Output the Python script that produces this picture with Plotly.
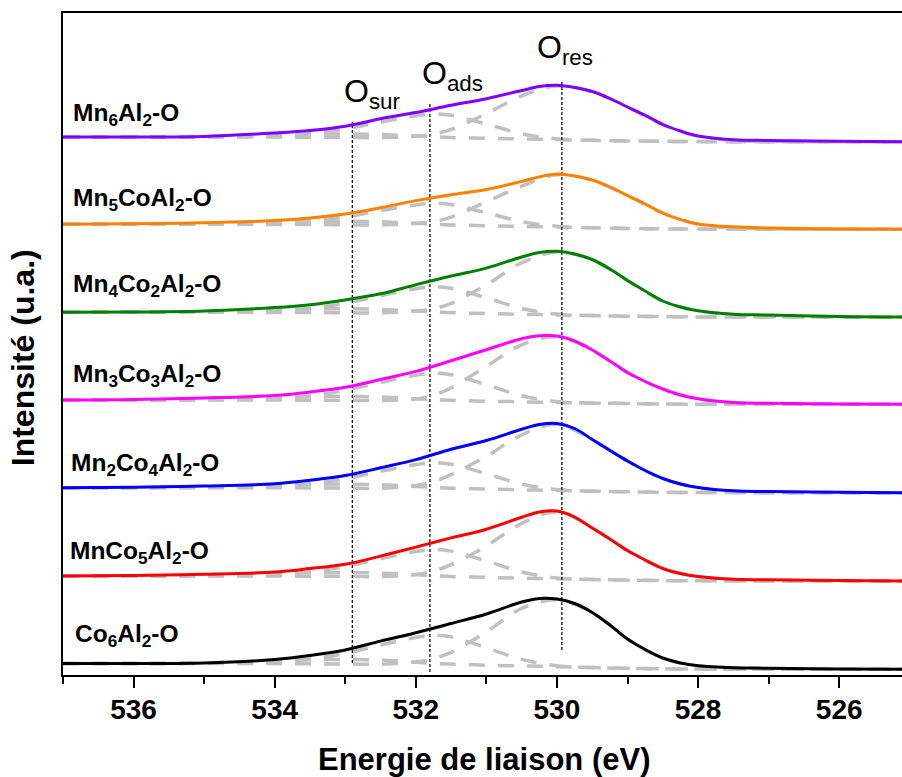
import plotly.graph_objects as go

# ---------------- data ----------------
energy = [537, 536, 535, 534, 533.5, 533, 532.5, 532, 531.5, 531, 530.5, 530.25, 530,
          529.75, 529.5, 529.25, 529, 528.75, 528.5, 528.25, 528, 527.5, 527, 526, 525.1]

int_mn6 = [543, 543, 543.5, 547, 549.5, 553.8, 561.2, 567.5, 574.7, 581.3, 589.5, 593.5, 594.7,
           592.5, 588.5, 581.5, 573, 564.7, 555.5, 549, 544, 540.3, 539.5, 538.7, 538.3]
int_mn5co = [455.7, 456.2, 457.2, 459.5, 462, 466, 472.2, 479.4, 485.3, 490.5, 498.6, 503.1, 506,
             504, 500, 493, 484.5, 476, 467, 460.5, 456, 453.2, 452, 451, 450.7]
int_mn4co2 = [367.7, 368, 369, 372.4, 375.3, 380.1, 386.2, 395.3, 404, 411.9, 423, 427.5, 428.8,
              426, 420.5, 411, 399.5, 389, 379, 373, 369.3, 365.8, 365, 363.5, 363]
int_mn3co3 = [280, 280.5, 282, 284.5, 288, 292.7, 300.5, 308.6, 319.3, 330.3, 341.3, 344.2, 344,
              339, 330, 319, 307.5, 298.5, 291, 285, 281.3, 277.5, 276.7, 276, 275.7]
int_mn2co4 = [192.3, 192.8, 194, 196.2, 199.7, 204.4, 212.2, 220.4, 230.8, 239.5, 250.8, 255.5, 256.5,
              251.5, 240.5, 229.5, 219, 209.5, 201.5, 196, 192.5, 189.2, 188.5, 187.7, 187.3]
int_mnco5 = [104, 104.5, 105.7, 108, 111.5, 115.7, 123.9, 132.9, 142.1, 150.8, 162.7, 168, 169,
             163, 152, 141, 129.5, 120, 111.5, 106.5, 103.5, 100.7, 100.2, 99.5, 99]
int_co6 = [16.5, 16.5, 17, 20.5, 24.5, 30, 38.9, 47.3, 56.5, 66, 78, 81.5, 81,
           76.5, 67.5, 55, 41, 30.5, 22, 17, 14.2, 12.2, 11.8, 11, 10.7]

comp_energy = [537, 535, 534, 533.5, 533, 532.5, 532, 531.75, 531.5, 531, 530.5, 530,
               529.5, 529, 528.5, 528, 527.5, 527, 525.1]

sur_mn6 = [543, 543.4, 545.0, 545.9, 546.1, 545.5, 544.0, 543.2, 542.5, 541.7, 541.0, 540.4, 539.7, 539.1, 538.7, 538.4, 538.3, 538.3, 538.3]
ads_mn6 = [543, 543.2, 544.3, 546.6, 551.2, 558.0, 564.3, 566.1, 564.7, 555.9, 546.3, 541.1, 539.7, 539.1, 538.7, 538.4, 538.3, 538.3, 538.3]
res_mn6 = [543, 543, 542.9, 542.8, 542.6, 542.4, 543.8, 545.9, 550.5, 566.3, 584.2, 594.0, 588.3, 572.8, 555.3, 543.8, 539.5, 538.6, 538.3]

sur_mn5co = [455.7, 456.1, 457.7, 458.6, 458.8, 458.2, 456.7, 455.8, 455.1, 454.3, 453.6, 453.0, 452.2, 451.6, 451.1, 450.9, 450.8, 450.7, 450.7]
ads_mn5co = [455.7, 455.9, 456.9, 459.0, 463.2, 469.4, 475.1, 476.7, 475.4, 467.3, 458.4, 453.7, 452.2, 451.6, 451.1, 450.9, 450.8, 450.7, 450.7]
res_mn5co = [455.7, 455.7, 455.6, 455.5, 455.3, 455.1, 456.5, 458.4, 462.9, 478.2, 493.8, 505.3, 499.7, 484.3, 466.8, 455.8, 452.0, 451.2, 450.7]

sur_mn4co2 = [367.7, 368.2, 370.0, 371.0, 371.3, 370.6, 368.9, 368.1, 367.3, 366.4, 365.7, 365.1, 364.4, 363.8, 363.4, 363.1, 363.0, 363.0, 363.0]
ads_mn4co2 = [367.7, 368.0, 369.2, 371.7, 376.8, 384.3, 391.3, 393.3, 391.8, 382.1, 371.5, 365.9, 364.4, 363.8, 363.4, 363.1, 363.0, 363.0, 363.0]
res_mn4co2 = [367.7, 367.7, 367.6, 367.5, 367.3, 367.1, 368.8, 371.2, 376.7, 395.2, 417.2, 428.0, 420.3, 399.3, 378.8, 369.1, 365.3, 364.0, 363.0]

sur_mn3co3 = [280, 280.5, 282.3, 283.3, 283.7, 283.0, 281.3, 280.4, 279.7, 278.8, 278.2, 277.6, 277.0, 276.5, 276.0, 275.8, 275.7, 275.7, 275.7]
ads_mn3co3 = [280, 280.3, 281.6, 284.2, 289.7, 297.5, 304.8, 306.8, 305.3, 295.2, 284.3, 278.4, 277.0, 276.5, 276.0, 275.8, 275.7, 275.7, 275.7]
res_mn3co3 = [280, 280, 279.9, 279.8, 279.7, 279.5, 281.1, 284.6, 292.3, 313.7, 335.2, 343.2, 329.8, 307.3, 290.8, 281.1, 277.2, 276.3, 275.7]

sur_mn2co4 = [192.3, 192.8, 194.6, 195.6, 195.9, 195.2, 193.5, 192.6, 191.8, 190.9, 190.2, 189.6, 188.8, 188.2, 187.7, 187.5, 187.4, 187.3, 187.3]
ads_mn2co4 = [192.3, 192.6, 193.8, 196.3, 201.3, 208.6, 215.4, 217.3, 215.8, 206.3, 195.9, 190.4, 188.8, 188.2, 187.7, 187.5, 187.4, 187.3, 187.3]
res_mn2co4 = [192.3, 192.3, 192.2, 192.1, 191.9, 191.7, 194.5, 198.3, 205.4, 223.7, 245.1, 255.7, 240.3, 218.8, 201.3, 192.3, 188.7, 187.8, 187.3]

sur_mnco5 = [104, 104.5, 106.3, 107.3, 107.6, 106.9, 105.2, 104.3, 103.5, 102.6, 101.9, 101.3, 100.5, 99.9, 99.4, 99.2, 99.1, 99.0, 99.0]
ads_mnco5 = [104, 104.3, 105.6, 108.2, 113.5, 121.3, 128.5, 130.5, 128.9, 118.9, 108.0, 102.1, 100.5, 99.9, 99.4, 99.2, 99.1, 99.0, 99.0]
res_mnco5 = [104, 104, 103.9, 103.8, 103.6, 103.4, 105.6, 109.0, 115.3, 134.1, 156.6, 168.2, 151.8, 129.3, 111.3, 103.3, 100.4, 99.6, 99.0]

sur_co6 = [16.5, 17.0, 19.1, 20.2, 20.5, 19.8, 17.8, 16.7, 15.9, 14.8, 14.1, 13.3, 12.4, 11.7, 11.2, 10.9, 10.8, 10.7, 10.7]
ads_co6 = [16.5, 16.8, 18.2, 20.9, 26.6, 35.0, 42.6, 44.8, 43.1, 32.3, 20.6, 14.2, 12.4, 11.7, 11.2, 10.9, 10.8, 10.7, 10.7]
res_co6 = [16.5, 16.5, 16.4, 16.2, 16.0, 15.8, 17.9, 21.3, 27.7, 48.1, 71.5, 80.1, 67.3, 40.8, 21.8, 14.0, 11.8, 11.2, 10.7]

sample_labels = ["Mn<sub>6</sub>Al<sub>2</sub>-O", "Mn<sub>5</sub>CoAl<sub>2</sub>-O",
                 "Mn<sub>4</sub>Co<sub>2</sub>Al<sub>2</sub>-O", "Mn<sub>3</sub>Co<sub>3</sub>Al<sub>2</sub>-O",
                 "Mn<sub>2</sub>Co<sub>4</sub>Al<sub>2</sub>-O", "MnCo<sub>5</sub>Al<sub>2</sub>-O",
                 "Co<sub>6</sub>Al<sub>2</sub>-O"]

ref_energy = [532.9, 531.8, 529.93]
ref_top = [558, 578, 598]
ref_bottom = [17, 8, 30]
ref_labels = ["O<sub>sur</sub>", "O<sub>ads</sub>", "O<sub>res</sub>"]

xtick_vals = [536, 534, 532, 530, 528, 526]

# ---------------- styles / positions ----------------
curves = [int_mn6, int_mn5co, int_mn4co2, int_mn3co3, int_mn2co4, int_mnco5, int_co6]
components = [(sur_mn6, ads_mn6, res_mn6), (sur_mn5co, ads_mn5co, res_mn5co),
              (sur_mn4co2, ads_mn4co2, res_mn4co2), (sur_mn3co3, ads_mn3co3, res_mn3co3),
              (sur_mn2co4, ads_mn2co4, res_mn2co4), (sur_mnco5, ads_mnco5, res_mnco5),
              (sur_co6, ads_co6, res_co6)]
colors = ["#8000ff", "#ff8000", "#008000", "#ff00ff", "#0000ff", "#ff0000", "#000000"]
label_x = [536.88, 536.88, 536.88, 536.88, 536.91, 536.93, 536.86]
label_y = [566, 481, 395, 305, 216, 128, 45]
ref_label_x = [533.04, 531.94, 530.31]
ref_label_y = [587, 605, 631]

FONT = "Liberation Sans, Arial, sans-serif"

fig = go.Figure()

for comps in components:
    for comp in comps:
        fig.add_trace(go.Scatter(x=comp_energy, y=comp, mode="lines",
                                 line=dict(color="#c0c0c0", width=3.5, dash="16px,13px",
                                           shape="spline", smoothing=1.0),
                                 hoverinfo="skip", showlegend=False))

for e, top, bot in zip(ref_energy, ref_top, ref_bottom):
    fig.add_trace(go.Scatter(x=[e, e], y=[bot, top], mode="lines",
                             line=dict(color="black", width=1.2, dash="3px,2px"),
                             hoverinfo="skip", showlegend=False))

for ys, c in zip(curves, colors):
    fig.add_trace(go.Scatter(x=energy, y=ys, mode="lines",
                             line=dict(color=c, width=3, shape="spline", smoothing=1.0),
                             showlegend=False))

annotations = []
for txt, x, y in zip(sample_labels, label_x, label_y):
    annotations.append(dict(x=x, y=y, xref="x", yref="y", text="<b>" + txt + "</b>",
                            showarrow=False, xanchor="left", yanchor="middle",
                            font=dict(family=FONT, size=24.5, color="black")))
for txt, x, y in zip(ref_labels, ref_label_x, ref_label_y):
    annotations.append(dict(x=x, y=y, xref="x", yref="y", text=txt,
                            showarrow=False, xanchor="left", yanchor="middle",
                            font=dict(family=FONT, size=32, color="black")))
annotations.append(dict(x=0.502, y=-0.128, xref="paper", yref="paper",
                        text="<b>Energie de liaison (eV)</b>", showarrow=False,
                        xanchor="center", yanchor="middle",
                        font=dict(family=FONT, size=31, color="black")))
annotations.append(dict(x=-0.0477, y=0.48, xref="paper", yref="paper",
                        text="<b>Intensité (u.a.)</b>", showarrow=False, textangle=-90,
                        xanchor="center", yanchor="middle",
                        font=dict(family=FONT, size=32, color="black")))

fig.update_layout(
    width=902, height=777,
    margin=dict(l=63, r=0, t=13, b=102),
    paper_bgcolor="white", plot_bgcolor="white",
    showlegend=False,
    annotations=annotations,
    xaxis=dict(range=[537, 525.11], showgrid=False, zeroline=False,
               showline=True, linecolor="black", linewidth=2, mirror=True,
               ticks="outside", ticklen=11, tickwidth=2, tickcolor="black",
               tickvals=xtick_vals, ticktext=["<b>%d</b>" % v for v in xtick_vals],
               tickfont=dict(family=FONT, size=28, color="black"),
               ticklabelstandoff=-3,
               minor=dict(ticks="outside", ticklen=7, tickwidth=2, tickcolor="black",
                          dtick=1, tick0=525, showgrid=False)),
    yaxis=dict(range=[5, 667], showgrid=False, zeroline=False,
               showline=True, linecolor="black", linewidth=2, mirror=False,
               ticks="", showticklabels=False),
)

# remove the browser's default 8 px page margin so the figure fills the window
fig.write_html("out.html", config={"displayModeBar": False},
               post_script="document.body.style.margin='0';document.body.style.overflow='hidden';")
